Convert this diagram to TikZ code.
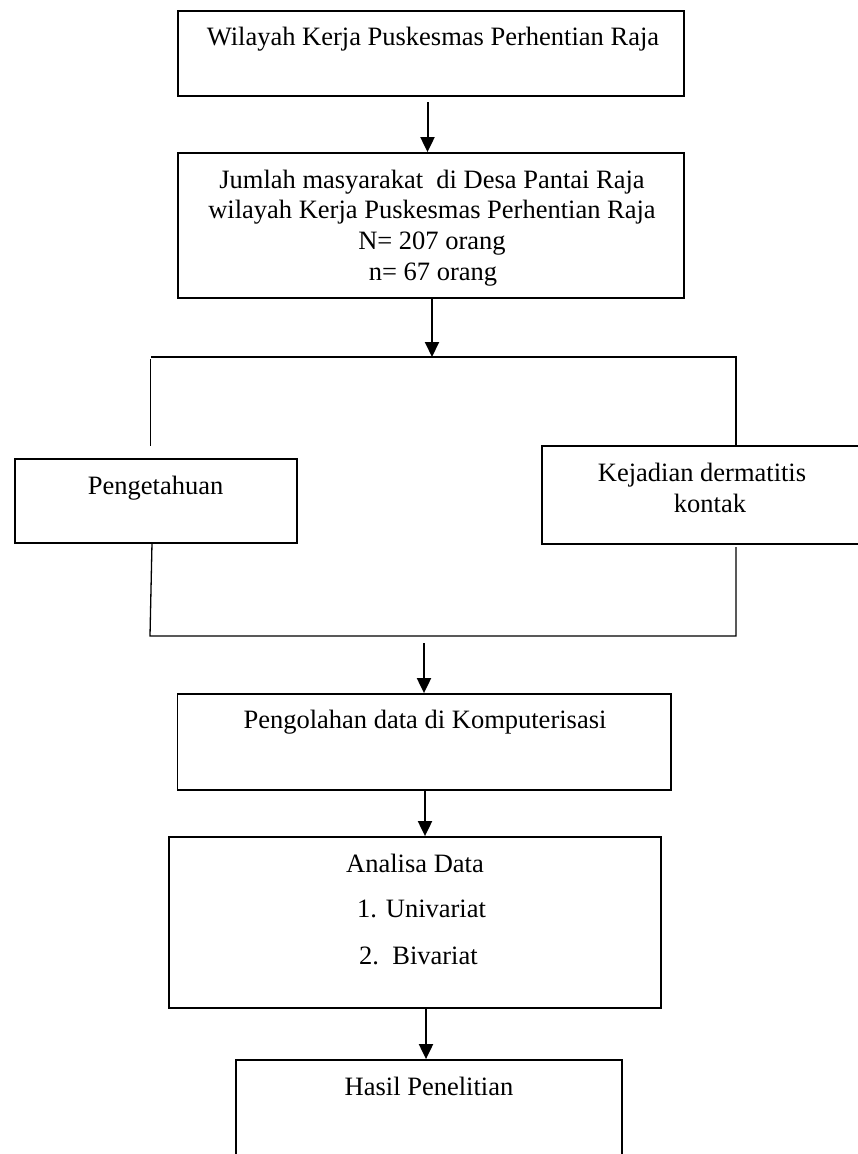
\documentclass[tikz,border=0pt]{standalone}
\usepackage{fontspec}
\setmainfont{Liberation Serif}
\usetikzlibrary{arrows.meta}
\begin{document}
\begin{tikzpicture}[x=1pt,y=-1pt,
  box/.style={draw,line width=1.8pt,inner sep=0pt,fill=none},
  txt/.style={anchor=base,inner sep=0pt,font=\fontsize{26.5}{30}\selectfont},
  conn/.style={line width=1.3pt},
  arr/.style={line width=2pt,-{Triangle[length=15pt,width=14pt]}}]
\useasboundingbox (0,0) rectangle (858,1154);
% boxes
\node[box,minimum width=506pt,minimum height=85pt] (b1) at (431,53.2) {};
\node[box,minimum width=506pt,minimum height=145pt] (b2) at (431,225.5) {};
\node[box,minimum width=282pt,minimum height=84pt] (peng) at (155.6,501) {};
\node[box,minimum width=320pt,minimum height=98pt] (kej) at (702,495) {};
\node[box,minimum width=493.5pt,minimum height=96pt] (pol) at (424.25,742) {};
\node[box,minimum width=492.4pt,minimum height=171pt] (ana) at (414.8,922.5) {};
\node[box,minimum width=386pt,minimum height=120pt] (has) at (428.7,1120) {};
% texts
\node[txt] (t1) at (433,45) {Wilayah Kerja Puskesmas Perhentian Raja};
\node[txt] (t2a) at (432,188) {Jumlah masyarakat\ \ di Desa Pantai Raja};
\node[txt] (t2b) at (432,218) {wilayah Kerja Puskesmas Perhentian Raja};
\node[txt] (t2c) at (432,249) {N= 207 orang};
\node[txt] (t2d) at (433,280) {n= 67 orang};
\node[txt] (tp) at (155.6,494) {Pengetahuan};
\node[txt] (tk1) at (702,481) {Kejadian dermatitis};
\node[txt] (tk2) at (710,512) {kontak};
\node[txt] (tpol) at (425,728) {Pengolahan data di Komputerisasi};
\node[txt] (tana) at (415,872) {Analisa Data};
\node[txt,anchor=base west] (tu) at (357,917) {1. Univariat};
\node[txt,anchor=base west] (tb) at (359,964) {2.\ \ Bivariat};
\node[txt] (th) at (429,1095) {Hasil Penelitian};
% coordinates
\coordinate (a1s) at (427.5,102);
\coordinate (a2t) at (432,357);
\coordinate (hl) at (151,357);
\coordinate (hr) at (736,357);
\coordinate (lv1) at (150.5,359);
\coordinate (lv2) at (150.5,446);
\coordinate (lv3) at (152,543);
\coordinate (bl) at (150,636);
\coordinate (br) at (736,636);
\coordinate (rv3) at (736,547);
\coordinate (a3s) at (424,643);
\coordinate (a4) at (425,0);
\coordinate (a5) at (426,0);
% connectors
\draw[arr] (a1s) -- (a1s |- b2.north);
\draw[arr] (a2t |- b2.south) -- (a2t);
\draw[conn] (hl) -- (hr) -- (hr |- kej.north);
\draw[conn] (lv1) -- (lv2);
\draw[conn] (lv3) -- (bl) -- (br) -- (rv3);
\draw[arr] (a3s) -- (a3s |- pol.north);
\draw[arr] (a4 |- pol.south) -- (a4 |- ana.north);
\draw[arr] (a5 |- ana.south) -- (a5 |- has.north);
\end{tikzpicture}
\end{document}
